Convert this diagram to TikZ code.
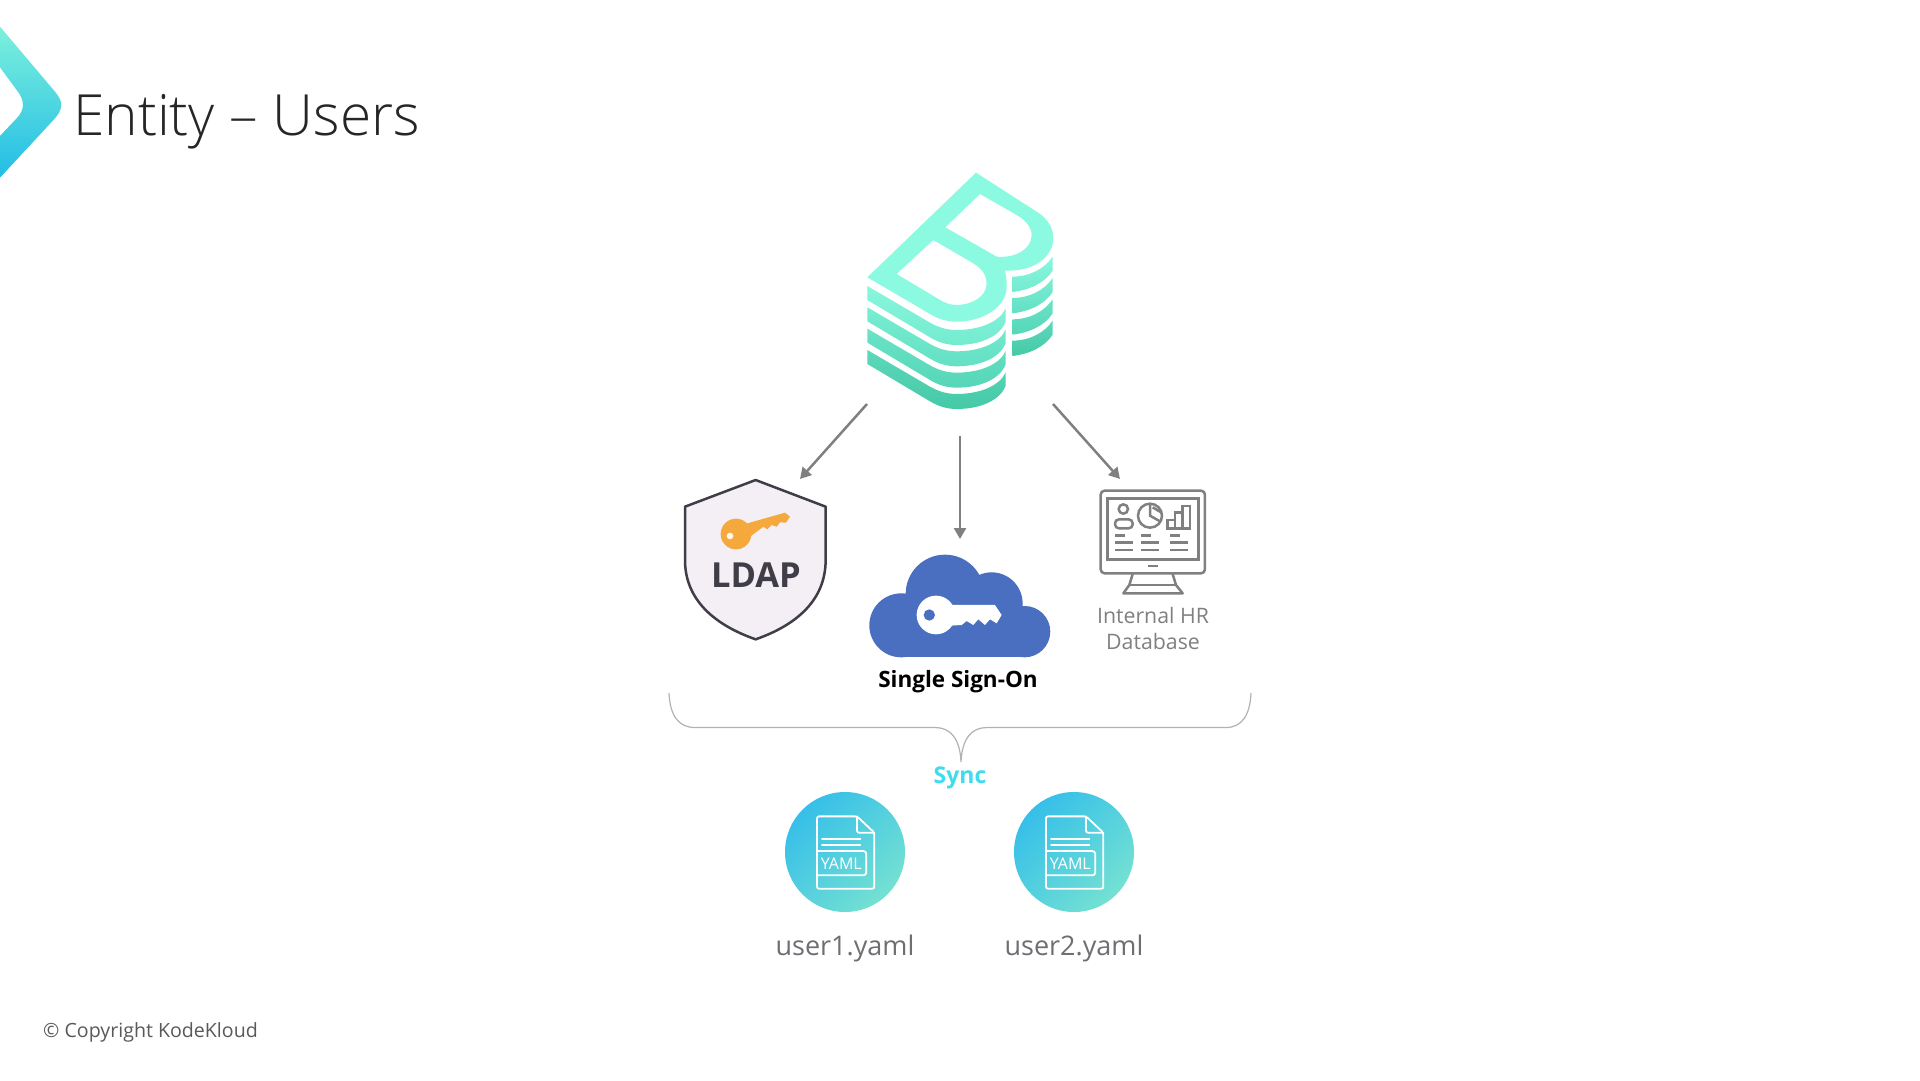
\documentclass[tikz,border=0pt]{standalone}
\usepackage{fontspec}
\setmainfont{Open Sans}
\newfontfamily\lightf{Open Sans Light}
\newfontfamily\boldf{Open Sans}[UprightFont=* Bold]
\usetikzlibrary{arrows.meta}
\definecolor{arrowgray}{HTML}{808080}
\definecolor{labelgray}{HTML}{6F6F73}
\definecolor{mint}{HTML}{8CFAE0}
\definecolor{cloudblue}{HTML}{4A6FC0}
\definecolor{keyorange}{HTML}{F5A93C}
\definecolor{syncc}{HTML}{3FDCEC}
\definecolor{darkslate}{HTML}{3F3D47}
\definecolor{shieldfill}{HTML}{F3EFF5}
\definecolor{yamla}{HTML}{36BFE9}
\definecolor{yamlb}{HTML}{74E1D2}
\definecolor{chevtop}{HTML}{7CF0DC}
\definecolor{chevbot}{HTML}{22BDE6}
\tikzset{
  flow/.style={draw=arrowgray,line width=2.5pt,-{Triangle[length=11pt,width=12pt]}},
  monline/.style={draw=arrowgray,line width=2.5pt},
  docline/.style={draw=white,line width=1.8pt,line join=round,line cap=round},
  yamlcircle/.style={circle,minimum size=120pt,inner sep=0pt,left color=yamla,right color=yamlb,shading angle=45},
  filelabel/.style={text=labelgray,font=\fontsize{27pt}{30pt}\selectfont,anchor=base},
  hrlabel/.style={inner sep=0pt,text=arrowgray,font=\fontsize{21.3pt}{26pt}\selectfont,anchor=base},
}
\newcommand{\docicon}[1]{%
  \begin{scope}[shift={(#1)},x=0.3333pt,y=-0.3333pt]
    \draw[docline,rounded corners=2pt] (-84,-107) -- (36,-107) -- (88,-58) -- (88,110) -- (-84,110) -- cycle;
    \draw[docline,rounded corners=2pt] (36,-107) -- (36,-58) -- (88,-58);
    \draw[docline] (-69,-40) -- (46,-40);
    \draw[docline] (-69,-20) -- (46,-20);
    \draw[docline,rounded corners=3pt,fill=none] (-84,-3) -- (64,-3) -- (64,70) -- (-84,70);
    \node[text=white,font=\fontsize{16pt}{16pt}\selectfont,inner sep=0pt] at (-11,35) {YAML};
  \end{scope}}
\begin{document}
\begin{tikzpicture}[x=1pt,y=-1pt]
\useasboundingbox (0,0) rectangle (1920,1080);
\fill[white] (0,0) rectangle (1920,1080);

% chevron
\begin{scope}[shift={(0,10)},x=0.3333pt,y=-0.3333pt]
\shade[top color=chevtop,bottom color=chevbot]
  (0,50) -- (165,245) .. controls (190,275) and (190,295) .. (165,325) -- (0,503) -- (0,378)
  -- (50,325) .. controls (75,300) and (75,270) .. (50,240) -- (0,172) -- cycle;
\end{scope}
\node[anchor=base west,inner sep=0pt,text=black!85,font=\lightf\fontsize{56.8pt}{60pt}\selectfont] (title) at (73,135) {Entity – Users};

% logo
\begin{scope}[shift={(840,150)},x=0.3333pt,y=-0.3333pt]
\fill[mint,even odd rule]
  (408,68) -- (590,185) .. controls (625,207) and (640,235) .. (640,265)
  .. controls (640,315) and (590,365) .. (495,362)
  .. controls (500,385) and (500,395) .. (500,410)
  .. controls (500,470) and (430,515) .. (350,515)
  .. controls (320,515) and (295,507) .. (270,492) -- (82,382) -- cycle
  (420,132) -- (530,195) .. controls (560,212) and (575,235) .. (575,255)
  .. controls (575,295) and (530,325) .. (470,320) -- (316,232) -- cycle
  (280,270) -- (400,340) .. controls (430,358) and (440,380) .. (440,400)
  .. controls (440,440) and (395,465) .. (350,465)
  .. controls (330,465) and (315,458) .. (300,450) -- (170,372) -- cycle;
\foreach \i/\ca/\cb in {0/88F6DC/74EBD0,1/78EDD2/64E0C4,2/6AE3C6/56D6B8,3/5CD9BB/45C9A6}{
  \definecolor{ca}{HTML}{\ca}\definecolor{cb}{HTML}{\cb}
  \shade[top color=ca,bottom color=cb,yshift=-\i*21.33pt]
    (82,408) -- (270,518) .. controls (295,532) and (320,540) .. (350,540)
    .. controls (420,540) and (480,515) .. (497,475) -- (497,515)
    .. controls (480,560) and (420,585) .. (350,585)
    .. controls (320,585) and (295,577) .. (270,562) -- (82,450) -- cycle;
  \shade[top color=ca,bottom color=cb,yshift=-\i*21.33pt]
    (517,380) .. controls (570,380) and (615,355) .. (638,320) -- (638,362)
    .. controls (615,398) and (570,420) .. (517,426) -- cycle;
}
\end{scope}
\coordinate (logoL) at (867,404);
\coordinate (logoC) at (960,436);
\coordinate (logoR) at (1053,404);
\coordinate (ldapIn) at (800,479);
\coordinate (ssoIn) at (960,539);
\coordinate (hrIn) at (1120,479);
\draw[flow] (logoL) -- (ldapIn);
\draw[flow] (logoC) -- (ssoIn);
\draw[flow] (logoR) -- (hrIn);

% LDAP shield
\begin{scope}[shift={(660,460)},x=0.3333pt,y=-0.3333pt]
\filldraw[fill=shieldfill,draw=darkslate,line width=2.5pt,line join=round]
  (287,60) -- (497,140) -- (497,300) .. controls (497,420) and (410,495) .. (287,538)
  .. controls (164,495) and (75,420) .. (75,300) -- (75,140) -- cycle;
\fill[keyorange] (228,222) circle[radius=46];
\fill[keyorange] (262,190) -- (375,158) -- (390,170) -- (378,188) -- (360,187) -- (350,200) -- (335,195) -- (322,208) -- (310,200) -- (268,232) -- cycle;
\fill[white!90!keyorange] (210,228) circle[radius=10];
\end{scope}
\node[inner sep=0pt,text=darkslate,font=\boldf\fontsize{34.5pt}{34pt}\selectfont] (ldap) at (756,575) {LDAP};

% SSO cloud
\begin{scope}[shift={(660,460)},x=0.3333pt,y=-0.3333pt]
\fill[cloudblue] (855,402) circle[radius=118];
\fill[cloudblue] (995,430) circle[radius=93];
\fill[cloudblue] (724,496) circle[radius=96];
\fill[cloudblue] (1094,515) circle[radius=77];
\fill[cloudblue] (724,450) rectangle (1094,592);
\fill[white] (828,465) circle[radius=58];
\fill[white] (870,435) -- (1005,435) -- (1025,465) -- (1010,490) -- (990,478) -- (975,495) -- (955,478) -- (940,495) -- (920,483) -- (905,495) -- (870,497) -- cycle;
\fill[cloudblue] (808,465) circle[radius=17];
\end{scope}
\node[inner sep=0pt,text=black,font=\boldf\fontsize{22.5pt}{24pt}\selectfont,anchor=base] (sso) at (958,687) {Single Sign-On};

% monitor
\begin{scope}[shift={(1060,470)},x=0.3333pt,y=-0.3333pt]
\draw[monline,rounded corners=4pt] (122,62) rectangle (435,310);
\draw[monline] (142,85) rectangle (415,268);
\draw[monline] (265,288) -- (293,288);
\draw[monline,line join=round] (218,312) -- (208,345) -- (190,370) -- (368,370) -- (348,345) -- (338,312);
\draw[monline] (208,345) -- (348,345);
\draw[monline] (190,117) circle[radius=14];
\draw[monline,rounded corners=4pt] (165,148) rectangle (218,175);
\draw[monline] (270,137) circle[radius=36];
\draw[monline] (270,101) -- (270,137) -- (302,155);
\draw[monline] (278,112) -- (305,128) ;
\draw[monline] (322,175) -- (322,150) -- (345,150) -- (345,128) -- (368,128) -- (368,108) -- (390,108) -- (390,175) -- cycle;
\draw[monline] (345,150) -- (345,175) (368,128) -- (368,175);
\foreach \y/\a/\b/\c/\d/\e/\f in {196/165/195/243/273/330/360,218/165/218/243/297/330/383,240/165/218/243/297/330/383}{
  \draw[monline] (\a,\y) -- (\b,\y) (\c,\y) -- (\d,\y) (\e,\y) -- (\f,\y);
}
\end{scope}
\node[hrlabel] (hr1) at (1153,623) {Internal HR};
\node[hrlabel] (hr2) at (1153,649) {Database};

% brace
\draw[draw=black!30,line width=1.2pt] (669,693) .. controls (670,715) and (678,727.5) .. (695,727.5) -- (935,727.5)
  .. controls (950,727.5) and (960,738) .. (961,762) .. controls (962,738) and (972,727.5) .. (987,727.5)
  -- (1226,727.5) .. controls (1242,727.5) and (1250,715) .. (1251,693);
\node[inner sep=0pt,text=syncc,font=\boldf\fontsize{23pt}{24pt}\selectfont] (sync) at (960,778) {Sync};

% yaml files
\node[yamlcircle] (f1) at (845,852) {};
\node[yamlcircle] (f2) at (1074,852) {};
\docicon{845,852}
\docicon{1074,852}
\node[filelabel] (l1) at (845,955) {user1.yaml};
\node[filelabel] (l2) at (1074,955) {user2.yaml};

\node[anchor=base west,inner sep=0pt,text=black!65,font=\fontsize{19.6pt}{22pt}\selectfont] (copy) at (43,1037) {© Copyright KodeKloud};
\end{tikzpicture}
\end{document}
